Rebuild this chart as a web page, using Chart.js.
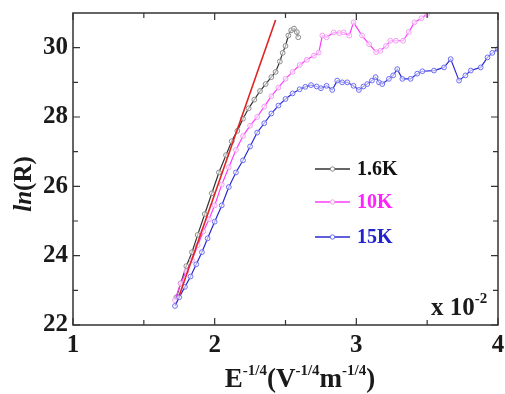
<!DOCTYPE html>
<html><head><meta charset="utf-8">
<script src="https://cdn.jsdelivr.net/npm/chart.js@4.4.1/dist/chart.umd.min.js"></script>
<style>html,body{margin:0;padding:0;background:#fff}</style>
</head><body>
<canvas id="c" width="505" height="394"></canvas>
<script>
// ---- data ----
const seriesNames = ['1.6K', '10K', '15K'];

const x16 = [1.73,1.76,1.80,1.84,1.88,1.93,1.98,2.03,2.08,2.12,2.16,2.20,2.24,2.28,2.32,2.36,2.40,2.43,2.46,2.48,2.50,2.52,2.54,2.56,2.58,2.59];
const y16 = [22.8,23.2,23.7,24.1,24.6,25.2,25.8,26.4,26.9,27.3,27.6,27.95,28.25,28.5,28.75,28.95,29.15,29.3,29.6,29.85,30.05,30.35,30.5,30.55,30.45,30.3];

const x10 = [1.72,1.76,1.80,1.84,1.88,1.92,1.96,2.00,2.05,2.10,2.15,2.20,2.25,2.30,2.35,2.40,2.45,2.50,2.55,2.60,2.65,2.70,2.735,2.76,2.79,2.84,2.88,2.91,2.95,2.98,3.04,3.09,3.14,3.17,3.21,3.24,3.28,3.33,3.37,3.41,3.46,3.50,3.55];
const y10 = [22.72,23.2,23.55,23.87,24.3,24.7,25.05,25.45,26.05,26.55,27.05,27.45,27.75,28.0,28.3,28.6,28.85,29.1,29.3,29.5,29.65,29.77,29.86,30.35,30.3,30.44,30.42,30.44,30.35,30.73,30.35,30.1,29.87,29.91,30.05,30.2,30.2,30.2,30.45,30.73,30.85,30.97,31.15];

const x15 = [1.72,1.75,1.79,1.83,1.87,1.91,1.95,2.00,2.05,2.10,2.15,2.20,2.25,2.30,2.35,2.40,2.45,2.50,2.55,2.60,2.64,2.68,2.72,2.75,2.79,2.83,2.865,2.90,2.936,2.98,3.018,3.05,3.077,3.11,3.136,3.16,3.183,3.23,3.26,3.289,3.325,3.383,3.43,3.466,3.548,3.619,3.666,3.725,3.77,3.808,3.878,3.926,3.96,4.0];
const y15 = [22.55,22.8,23.1,23.4,23.75,24.1,24.5,24.98,25.45,25.98,26.4,26.75,27.15,27.55,27.82,28.1,28.33,28.52,28.68,28.8,28.87,28.92,28.88,28.83,28.9,28.78,29.05,29.0,29.0,28.9,28.78,28.88,28.95,29.05,29.15,29.0,28.95,29.1,29.2,29.38,29.1,29.1,29.25,29.32,29.34,29.43,29.67,29.05,29.2,29.34,29.43,29.72,29.85,29.96];

const fitX = [1.75, 2.43];
const fitY = [22.85, 30.8];

const xTicks = [1, 2, 3, 4];
const yTicks = [22, 24, 26, 28, 30];
const xMinor = [1.5, 2.5, 3.5];
const yMinor = [23, 25, 27, 29];

const lineColors = ['#333333', '#ff3cff', '#2a2ad0'];
const pointColors = ['#8a8a8a', '#f29cf2', '#6c6cf4'];
const textColors = ['#111111', '#ff22ff', '#2222cc'];

const pts = (xs, ys) => xs.map((x, i) => ({x: x, y: ys[i]}));

const SERIF = '"Liberation Serif", "DejaVu Serif", serif';

function drawSegments(ctx, segs, cx, baseline) {
  let total = 0;
  segs.forEach(s => { ctx.font = s.font; s.w = ctx.measureText(s.t).width; total += s.w; });
  let x = cx - total / 2;
  ctx.textAlign = 'left';
  ctx.textBaseline = 'alphabetic';
  segs.forEach(s => { ctx.font = s.font; ctx.fillText(s.t, x, baseline - (s.dy || 0)); x += s.w; });
}

const decor = {
  id: 'decor',
  afterDraw(chart) {
    const ctx = chart.ctx;
    const a = chart.chartArea;
    const xs = chart.scales.x, ys = chart.scales.y;
    ctx.save();
    // frame
    ctx.strokeStyle = '#333';
    ctx.lineWidth = 1.5;
    ctx.strokeRect(a.left, a.top, a.right - a.left, a.bottom - a.top);
    // ticks (inward)
    ctx.lineWidth = 1.2;
    const tickX = (v, len) => {
      const p = xs.getPixelForValue(v);
      ctx.beginPath();
      ctx.moveTo(p, a.bottom); ctx.lineTo(p, a.bottom - len);
      ctx.moveTo(p, a.top); ctx.lineTo(p, a.top + len);
      ctx.stroke();
    };
    const tickY = (v, len) => {
      const p = ys.getPixelForValue(v);
      ctx.beginPath();
      ctx.moveTo(a.left, p); ctx.lineTo(a.left + len, p);
      ctx.moveTo(a.right, p); ctx.lineTo(a.right - len, p);
      ctx.stroke();
    };
    xTicks.forEach(v => tickX(v, 7));
    xMinor.forEach(v => tickX(v, 5));
    yTicks.forEach(v => tickY(v, 7));
    yMinor.forEach(v => tickY(v, 5));

    ctx.fillStyle = '#1a1a1a';
    // x title
    const big = 'bold 27px ' + SERIF, sup = 'bold 15px ' + SERIF;
    drawSegments(ctx, [
      {t: 'E', font: big}, {t: '-1/4', font: sup, dy: 12},
      {t: '(V', font: big}, {t: '-1/4', font: sup, dy: 12},
      {t: 'm', font: big}, {t: '-1/4', font: sup, dy: 12},
      {t: ')', font: big}
    ], 300, 387);
    // y title
    ctx.save();
    ctx.translate(31, 184);
    ctx.rotate(-Math.PI / 2);
    drawSegments(ctx, [
      {t: 'ln', font: 'italic bold 25px ' + SERIF},
      {t: '(R)', font: 'bold 25px ' + SERIF}
    ], 0, 0);
    ctx.restore();
    // multiplier
    ctx.font = 'bold 25px ' + SERIF;
    ctx.textAlign = 'left';
    ctx.textBaseline = 'alphabetic';
    ctx.fillText('x 10', 431, 315);
    const w = ctx.measureText('x 10').width;
    ctx.font = 'bold 15px ' + SERIF;
    ctx.fillText('-2', 431 + w, 303);

    // legend
    const rows = [169, 202, 237];
    seriesNames.forEach((name, i) => {
      const y = rows[i];
      ctx.strokeStyle = lineColors[i];
      ctx.lineWidth = 1.5;
      ctx.beginPath(); ctx.moveTo(315, y); ctx.lineTo(350, y); ctx.stroke();
      ctx.fillStyle = '#fff';
      ctx.strokeStyle = pointColors[i];
      ctx.lineWidth = 1;
      ctx.beginPath(); ctx.arc(332.5, y, 2.2, 0, Math.PI * 2); ctx.fill(); ctx.stroke();
      ctx.fillStyle = textColors[i];
      ctx.font = 'bold 20px ' + SERIF;
      ctx.textBaseline = 'middle';
      ctx.fillText(name, 357, y + 1);
    });
    ctx.restore();
  }
};

const mkSeries = (label, data, i) => ({
  label: label,
  data: data,
  borderColor: lineColors[i],
  borderWidth: 1.2,
  pointRadius: 2.4,
  pointBorderWidth: 1,
  pointBorderColor: pointColors[i],
  pointBackgroundColor: 'rgba(255,255,255,0.6)',
  showLine: true,
  tension: 0,
  order: 3 - i
});

new Chart(document.getElementById('c'), {
  type: 'scatter',
  data: {
    datasets: [
      {label: 'fit', data: pts(fitX, fitY), borderColor: '#e02424', borderWidth: 1.6, pointRadius: 0, showLine: true, order: 0},
      mkSeries(seriesNames[0], pts(x16, y16), 0),
      mkSeries(seriesNames[1], pts(x10, y10), 1),
      mkSeries(seriesNames[2], pts(x15, y15), 2)
    ]
  },
  options: {
    responsive: false,
    devicePixelRatio: 1,
    animation: false,
    layout: {padding: {top: 13, right: 7, left: 0, bottom: 0}},
    plugins: {legend: {display: false}, tooltip: {enabled: false}},
    scales: {
      x: {
        type: 'linear', min: 1, max: 4,
        grid: {display: false, drawTicks: false},
        border: {display: false},
        afterBuildTicks: s => { s.ticks = xTicks.map(v => ({value: v})); },
        afterFit: s => { s.height = 69; s.paddingLeft = 0; s.paddingRight = 0; },
        ticks: {color: '#1a1a1a', padding: 6, maxRotation: 0, font: {family: SERIF, size: 25, weight: 'bold'}}
      },
      y: {
        type: 'linear', min: 22, max: 31,
        grid: {display: false, drawTicks: false},
        border: {display: false},
        afterBuildTicks: s => { s.ticks = yTicks.map(v => ({value: v})); },
        afterFit: s => { s.width = 73; s.paddingTop = 0; s.paddingBottom = 0; },
        ticks: {color: '#1a1a1a', padding: 5, font: {family: SERIF, size: 25, weight: 'bold'}}
      }
    }
  },
  plugins: [decor]
});
</script>
</body></html>
